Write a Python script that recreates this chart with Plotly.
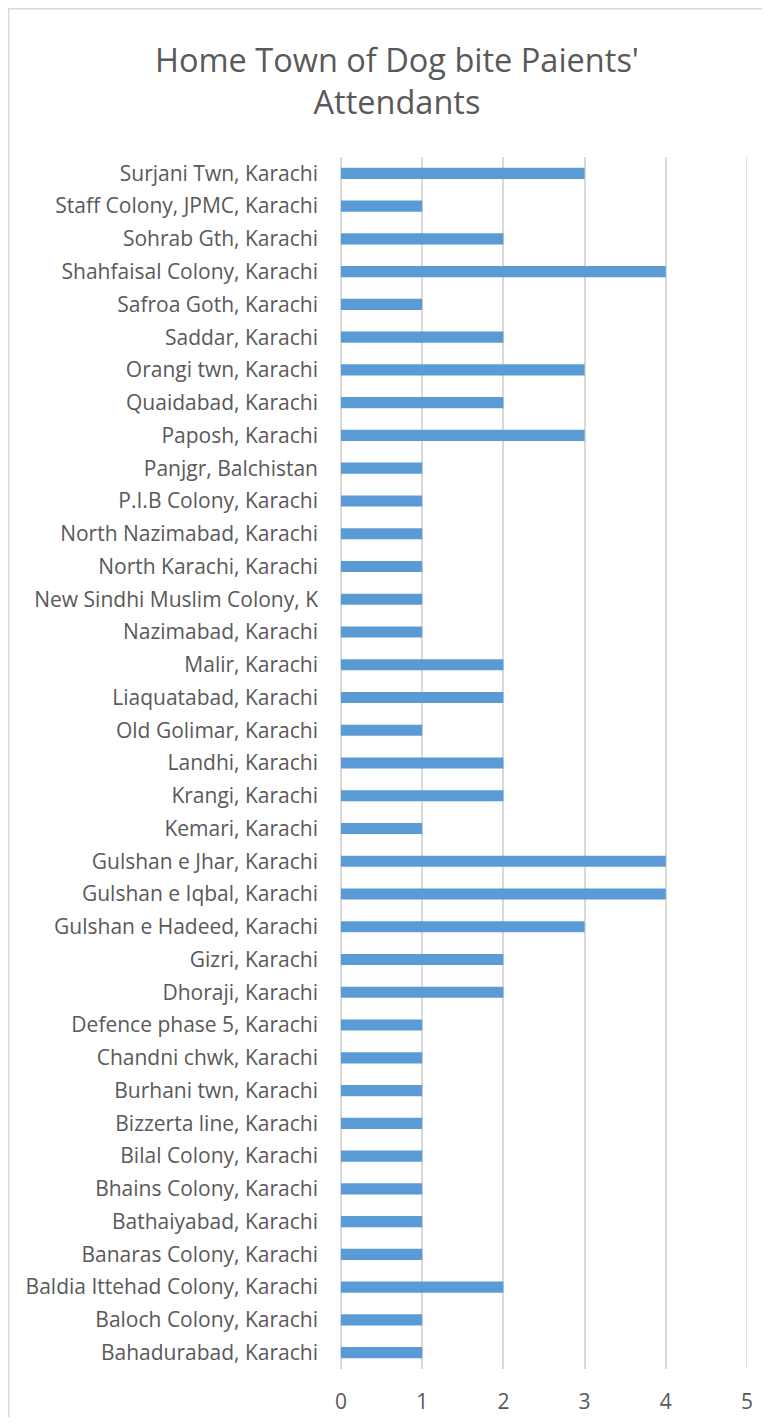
import plotly.graph_objects as go

towns = [
    "Surjani Twn, Karachi", "Staff Colony, JPMC, Karachi", "Sohrab Gth, Karachi",
    "Shahfaisal Colony, Karachi", "Safroa Goth, Karachi", "Saddar, Karachi",
    "Orangi twn, Karachi", "Quaidabad, Karachi", "Paposh, Karachi",
    "Panjgr, Balchistan", "P.I.B Colony, Karachi", "North Nazimabad, Karachi",
    "North Karachi, Karachi", "New Sindhi Muslim Colony, K", "Nazimabad, Karachi",
    "Malir, Karachi", "Liaquatabad, Karachi", "Old Golimar, Karachi",
    "Landhi, Karachi", "Krangi, Karachi", "Kemari, Karachi",
    "Gulshan e Jhar, Karachi", "Gulshan e Iqbal, Karachi", "Gulshan e Hadeed, Karachi",
    "Gizri, Karachi", "Dhoraji, Karachi", "Defence phase 5, Karachi",
    "Chandni chwk, Karachi", "Burhani twn, Karachi", "Bizzerta line, Karachi",
    "Bilal Colony, Karachi", "Bhains Colony, Karachi", "Bathaiyabad, Karachi",
    "Banaras Colony, Karachi", "Baldia Ittehad Colony, Karachi", "Baloch Colony, Karachi",
    "Bahadurabad, Karachi",
]
counts = [3, 1, 2, 4, 1, 2, 3, 2, 3, 1, 1, 1, 1, 1, 1, 2, 2, 1, 2, 2, 1,
          4, 4, 3, 2, 2, 1, 1, 1, 1, 1, 1, 1, 1, 2, 1, 1]
x_ticks = [0, 1, 2, 3, 4, 5]

FONT = "Open Sans, sans-serif"
TXT = "#595959"
GRID = "#D9D9D9"

W, H = 754, 1409
L, R, T, B = 333, 15, 149, 48
PW, PH = W - L - R, H - T - B

fig = go.Figure(go.Bar(
    x=counts, y=towns, orientation="h",
    marker=dict(color="#5B9BD5", line=dict(width=0)),
))

fig.update_layout(
    width=W, height=H,
    paper_bgcolor="white", plot_bgcolor="white",
    margin=dict(l=L, r=R, t=T, b=B),
    bargap=0.66,
    showlegend=False,
    font=dict(family=FONT, color=TXT, size=21),
    title=dict(
        text="Home Town of Dog bite Paients'<br>Attendants",
        x=(397 - 8) / W, xanchor="center", y=1 - 64 / H, yanchor="middle",
        font=dict(family=FONT, size=32.5, color=TXT), automargin=False,
    ),
    xaxis=dict(
        range=[0, 5], tickvals=x_ticks, showgrid=True, gridcolor=GRID, gridwidth=1.5,
        zeroline=True, zerolinecolor=GRID, zerolinewidth=1.5,
        showline=False, ticks="", ticklabelstandoff=18, automargin=False,
        tickfont=dict(family=FONT, size=21, color=TXT), fixedrange=True,
    ),
    yaxis=dict(
        autorange="reversed", showgrid=False, zeroline=False, showline=False,
        ticks="", ticklabelstandoff=22, automargin=False,
        tickfont=dict(family=FONT, size=21, color=TXT),
    ),
    shapes=[
        dict(
            type="rect", xref="paper", yref="paper",
            x0=(0.75 - L) / PW, x1=(W + 40 - L) / PW,
            y0=(H - B - (H + 40)) / PH, y1=(H - B - 0.75) / PH,
            line=dict(color=GRID, width=1.5), fillcolor="rgba(0,0,0,0)", layer="below",
        ),
        dict(
            type="line", xref="x", yref="paper", x0=x_ticks[-1], x1=x_ticks[-1], y0=0, y1=1,
            line=dict(color=GRID, width=1.5), layer="below",
        ),
    ],
)

fig.write_html("out.html")
